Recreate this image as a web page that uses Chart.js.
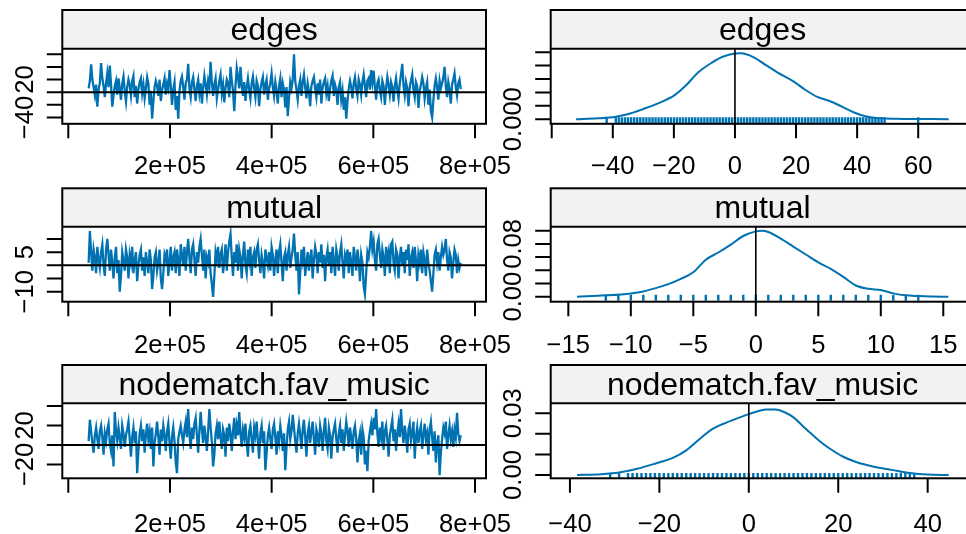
<!DOCTYPE html>
<html><head><meta charset="utf-8">
<script src="https://cdn.jsdelivr.net/npm/chart.js@4.4.0/dist/chart.umd.min.js"></script>
<style>
html,body{margin:0;padding:0;background:#fff;overflow:hidden;width:966px;height:534px;position:relative;}
canvas{position:absolute;left:0;top:0;}
</style></head><body>
<canvas id="p0" width="1000" height="534"></canvas>
<canvas id="p1" width="1000" height="534"></canvas>
<canvas id="p2" width="1000" height="534"></canvas>
<canvas id="p3" width="1000" height="534"></canvas>
<canvas id="p4" width="1000" height="534"></canvas>
<canvas id="p5" width="1000" height="534"></canvas>
<script>
// ---------------- DATA ----------------
const statNames = ['edges', 'mutual', 'nodematch.fav_music'];

// MCMC iteration axis (regular sampling interval of the chain)
const ITER_START = 40000;
const ITER_STEP = 2448;

// Trace values (deviation of sampled statistic from observed)
const edgesTrace = [
  6, 18, 44, 20, 8, -5, 12, -23, 4, 15, 46, 22, 10, -8, 14,
  30, 8, 42, 12, -23, -6, 10, 18, -4, 22, 6, -12, 14, 25, 2,
  -15, 8, 20, 12, -5, 18, 26, -8, 10, -18, 4, 16, 22, -2, 12,
  -10, 6, 24, 14, -20, 2, -42, -15, 8, 18, 10, -6, 20, -14, 4,
  12, 22, -4, 14, 6, 35, 10, -20, 4, 16, -28, -6, -42, 2, 18,
  25, 8, -12, 14, 20, 45, 6, -8, 16, 24, 4, -14, 10, 20, -2,
  14, -18, 6, 26, 12, -4, 18, 8, 48, 16, -6, 12, 22, -10, 4,
  18, 28, -2, 12, -16, 6, 20, 14, -8, 40, 18, 2, -30, 10, 38,
  24, 6, 40, 12, -6, 16, -14, 8, 22, 4, -10, 14, 25, 6, -8,
  18, 10, -22, 4, 16, 24, -4, 12, 20, -12, 6, 14, 30, 8, -6,
  16, 2, -18, 10, 22, -8, 14, 4, -24, 8, -38, -10, 16, 6, 20,
  60, 18, 4, -12, 10, 20, -6, 16, 28, 8, -10, 14, 2, -22, 10,
  18, 24, 6, -8, 14, -4, 20, -18, 8, 16, 22, -2, 10, -14, 6,
  18, 26, -6, 12, 4, -20, 8, 16, -12, 2, -28, -8, -42, -14, 6,
  18, 8, -10, 14, 24, 6, -6, 20, 12, -4, 16, 28, 10, -8, 18,
  22, 4, 35, 16, 34, 8, -12, 14, 20, 2, -8, 18, 10, -20, 6,
  24, 12, -4, 16, 8, -15, 10, 22, 4, -10, 14, 28, 45, 10, -5,
  16, 6, -22, 8, 18, 28, 4, -8, 16, 10, -25, 2, 12, 24, 14,
  -10, 6, 16, -20, 4, -30, -40, -12, 10, 22, 8, -12, 18, 6, 14,
  24, 40, 10, -8, 16, 4, -18, 12, 20, 30, 8, -5, 14, 20, 5
];
const mutualTrace = [
  1, 13, 5, -2, 6, 3, -3, 7, 2, -1, 5, 8, 0, -4, 6,
  10, 4, -2, 6, 1, -5, 3, 7, -3, 2, -10, -4, 5, 2, -2,
  6, 3, -5, 4, 1, 7, -3, 2, 5, -6, 0, 4, 6, -2, 3,
  -4, 5, 1, -3, 6, 2, -9, -4, 3, 5, -2, 1, 6, -5, -9,
  -3, 4, 2, 6, -4, 1, 7, -2, 3, 5, -3, 6, 2, -4, 8,
  4, 0, 7, -2, 5, 10, 3, -3, 6, 8, 2, -4, 5, 1, 7,
  10, 4, -2, 6, -5, 3, 1, 6, -3, -7, -12, -4, 5, 2, 7,
  -1, 4, 6, -3, 2, 8, -2, 5, 9, 12, 3, -4, 5, 1, 8,
  -2, 6, 3, -5, 4, 9, 0, -3, 6, 2, 7, -4, 3, 5, -1,
  6, 8, 2, -3, 4, 1, -5, 6, 3, 0, 5, -2, 7, 4, -4,
  2, 6, -3, 5, 8, 1, -6, 3, 5, -2, 4, 7, -1, 3, 6,
  12, 4, -2, 5, -11, -3, 6, 2, 7, -4, 1, 5, -2, 3, 6,
  -5, 2, 7, 4, -3, 5, 1, 8, -1, 4, -6, 3, 6, 0, 5,
  -3, 7, 2, -4, 6, 3, -2, 5, 8, 1, -5, 4, 2, 6, -3,
  5, 1, -4, 7, 3, -2, 6, 2, -6, 4, 1, -8, -11, -3, 5,
  3, 7, 13, 6, 9, 2, -2, 8, 10, 4, -1, 6, 3, -4, 7,
  2, 5, -3, 8, 9, 1, -2, 6, 4, -5, 3, 7, 0, 5, -3,
  6, 2, 8, -4, 3, 5, -1, 7, 2, -6, 4, 1, 6, -3, 5,
  2, -4, 6, 1, -2, -6, -10, -3, 4, 6, 1, 5, -2, 3, 7,
  4, 6, 10, 2, -2, 5, 3, -5, 1, 6, 4, -3, 2, -1, 1
];
const nodematchTrace = [
  4, 26, 14, 2, -8, 10, 18, 6, -4, 14, 20, 8, -10, 12, 4,
  16, 22, 2, -6, 10, -22, 34, 14, 4, 18, 8, -4, 20, 12, -2,
  10, 16, 24, 6, -12, 8, 18, 2, 14, -29, -6, 12, 20, 4, 16,
  -8, 10, 22, 6, 14, -4, 18, -22, 2, 12, 24, 8, -10, 16, 4,
  20, 10, -6, 14, 22, 2, -14, 8, 18, 4, -18, -29, 6, 14, 20,
  10, 2, 16, 24, 8, 37, 12, -4, 18, 6, 22, 28, 10, -8, 14,
  34, 16, 2, 20, 8, -6, 14, 37, 18, 4, -22, -10, 12, 20, 6,
  24, 8, -4, 16, 10, -12, 18, 4, 22, 12, -6, 14, 28, 6, 20,
  10, 34, 12, -2, 16, 8, 22, 2, -12, 14, 20, 6, -8, 18, 10,
  24, 4, -14, 12, 20, 2, 14, -26, -8, 10, 18, 6, -4, 16, 22,
  8, -10, 14, 4, 20, 10, -6, 12, -26, -2, 16, 24, 6, 14, 31,
  18, 4, -8, 12, 22, 10, -4, 16, 26, 8, -12, 12, 20, 2, 14,
  24, 6, -10, 16, 10, -2, 20, 12, -6, 14, 28, 4, -4, 18, 10,
  -14, 8, 16, 22, 6, -8, 12, 20, 2, 16, -6, 10, 24, 14, -2,
  18, 8, -4, 14, 20, 6, -18, 4, 12, -10, 16, 8, -20, -6, -27,
  4, 14, 22, 10, 28, 16, 37, 12, -2, 18, 8, 24, -5, 14, 20,
  6, -12, 10, 18, 26, 4, 16, -6, 12, 22, 8, 37, 14, 2, 20,
  10, -8, 16, 22, 4, 12, 24, -14, 8, 18, 2, 14, 20, -4, 10,
  22, 6, 12, -10, 16, 24, 8, -6, 14, -18, 2, 10, -31, -8, 6,
  18, 12, 24, -4, 10, 20, 6, 14, -2, 16, 8, 33, 12, 4, 10
];

// Kernel density curves (x, density)
const edgesDensX = [-52,-45,-39,-34,-30,-25,-20,-16,-12,-8,-4,0,2,6,10,14,19,23,27,31,35,39,43,48,55,70];
const edgesDensY = [0,0.0003,0.0009,0.0022,0.0038,0.0060,0.0088,0.0127,0.0175,0.0208,0.0233,0.0245,0.0246,0.0232,0.0203,0.0174,0.0142,0.0110,0.0083,0.0068,0.0047,0.0025,0.0010,0.0003,0.0001,0];
const mutualDensX = [-14.3,-12,-10,-9,-8,-7,-6,-5,-4,-3,-2,-1,0,0.5,1,2,3,4,5,6,7,8,9,10,11,12,13,14,15.4];
const mutualDensY = [0,0.002,0.005,0.008,0.013,0.019,0.027,0.037,0.056,0.067,0.079,0.092,0.099,0.100,0.098,0.088,0.076,0.064,0.052,0.042,0.030,0.017,0.012,0.010,0.005,0.002,0.001,0.0003,0];
const nodematchDensX = [-38.4,-33,-29,-25,-21,-17,-14,-11,-8,-5,-2,0,2,4,6,8,10,12,14,16,18,21,24,28,32,36,40,44.7];
const nodematchDensY = [0,0.0004,0.0012,0.0030,0.0055,0.0083,0.0120,0.0175,0.0225,0.0255,0.0280,0.0296,0.0310,0.0319,0.0318,0.0305,0.0280,0.0240,0.0200,0.0162,0.0130,0.0090,0.0063,0.0040,0.0025,0.0010,0.0002,0];

// Observed distinct values (rug marks)
const edgesRug = [-42,-39,-38,-37,-36,-35,-34,-33,-32,-31,-30,-29,-28,-27,-26,-25,-24,-23,-22,-21,-20,-19,-18,-17,-16,-15,-14,-13,-12,-11,-10,-9,-8,-7,-6,-5,-4,-3,-2,-1,0,1,2,3,4,5,6,7,8,9,10,11,12,13,14,15,16,17,18,19,20,21,22,23,24,25,26,27,28,29,30,31,32,33,34,35,36,37,38,39,40,41,42,43,44,45,46,47,48,49,60];
const mutualRug = [-12,-11,-10,-9,-8,-7,-6,-5,-4,-3,-2,-1,0,1,2,3,4,5,6,7,8,9,10,11,12,13];
const nodematchRug = [-31,-29,-27,-26,-25,-24,-23,-22,-21,-20,-19,-18,-17,-16,-15,-14,-13,-12,-11,-10,-9,-8,-7,-6,-5,-4,-3,-2,-1,0,1,2,3,4,5,6,7,8,9,10,11,12,13,14,15,16,17,18,19,20,21,22,23,24,25,26,27,28,29,30,31,32,33,34,35,36,37];

// Tick values and labels
const traceXTicks = [0, 200000, 400000, 600000, 800000];
const traceXLabels = ['', '2e+05', '4e+05', '6e+05', '8e+05'];
const edgesTraceYTicks = [-40, -20, 0, 20, 40, 60];
const edgesTraceYLabels = ['\u221240', '', '', '20', '', ''];
const mutualTraceYTicks = [-10, -5, 0, 5, 10];
const mutualTraceYLabels = ['\u221210', '', '', '5', ''];
const nodematchTraceYTicks = [-20, 0, 20, 40];
const nodematchTraceYLabels = ['\u221220', '', '20', ''];
const edgesDensXTicks = [-60, -40, -20, 0, 20, 40, 60];
const edgesDensXLabels = ['', '\u221240', '\u221220', '0', '20', '40', '60'];
const mutualDensXTicks = [-15, -10, -5, 0, 5, 10, 15];
const mutualDensXLabels = ['\u221215', '\u221210', '\u22125', '0', '5', '10', '15'];
const nodematchDensXTicks = [-40, -20, 0, 20, 40];
const nodematchDensXLabels = ['\u221240', '\u221220', '0', '20', '40'];
const edgesDensYTicks = [0, 0.005, 0.010, 0.015, 0.020, 0.025];
const edgesDensYLabels = ['0.000', '', '', '', '', ''];
const mutualDensYTicks = [0, 0.02, 0.04, 0.06, 0.08, 0.10];
const mutualDensYLabels = ['0.00', '', '', '', '0.08', ''];
const nodematchDensYTicks = [0, 0.01, 0.02, 0.03];
const nodematchDensYLabels = ['0.00', '', '', '0.03'];

// ---------------- STYLE / LAYOUT ----------------
const BLUE = '#0072B2';
const FONT_FAMILY = '"Liberation Sans", Arial, Helvetica, sans-serif';
const AXIS_PX = 25.6, STRIP_PX = 32;
const CANVAS_W = 1000, CANVAS_H = 534;
const COL_L = {l: 62.3, r: 486};
const COL_R = {l: 550.7, r: 974.4};
const ROWS = [
  {strip: 10, t: 48.7, b: 123.8, lab: 174},
  {strip: 188.3, t: 226.7, b: 301.7, lab: 352.5},
  {strip: 365, t: 403.3, b: 478.3, lab: 532}
];

function txt(ctx, s, x, y, px, align, rotated) {
  if (!s) return;
  ctx.save();
  ctx.translate(x, y);
  if (rotated) ctx.rotate(-Math.PI / 2);
  ctx.font = px + 'px ' + FONT_FAMILY;
  ctx.textAlign = align;
  ctx.textBaseline = 'alphabetic';
  ctx.fillStyle = '#000';
  ctx.fillText(s, 0, 0);
  ctx.restore();
}

const panelPlugin = {
  id: 'latticePanel',
  afterDatasetsDraw(chart, args, o) {
    const ctx = chart.ctx, a = chart.chartArea, x = chart.scales.x, y = chart.scales.y;
    ctx.save();
    // rug
    if (o.rug) {
      const y0 = y.getPixelForValue(0);
      ctx.strokeStyle = BLUE; ctx.lineWidth = 2.4;
      ctx.beginPath();
      o.rug.forEach(v => { const px = x.getPixelForValue(v); ctx.moveTo(px, y0 - 2); ctx.lineTo(px, y0 + 4); });
      ctx.stroke();
    }
    // reference line at zero
    ctx.strokeStyle = '#000';
    ctx.beginPath();
    if (o.kind === 'trace') {
      ctx.lineWidth = 2;
      const py = y.getPixelForValue(0); ctx.moveTo(a.left, py); ctx.lineTo(a.right, py);
    } else {
      ctx.lineWidth = 1.6;
      const px = x.getPixelForValue(0); ctx.moveTo(px, a.top); ctx.lineTo(px, a.bottom);
    }
    ctx.stroke();
    // strip
    ctx.fillStyle = '#F2F2F2';
    ctx.fillRect(a.left, o.stripTop, a.right - a.left, a.top - o.stripTop);
    ctx.strokeStyle = '#000'; ctx.lineWidth = 2;
    ctx.strokeRect(a.left, o.stripTop, a.right - a.left, a.bottom - o.stripTop);
    ctx.beginPath(); ctx.moveTo(a.left, a.top); ctx.lineTo(a.right, a.top); ctx.stroke();
    txt(ctx, o.title, (a.left + a.right) / 2, o.stripTop + 29.5, STRIP_PX, 'center', false);
    // y ticks
    ctx.beginPath();
    o.yTicks.forEach(v => { const py = y.getPixelForValue(v); ctx.moveTo(a.left - 15.5, py); ctx.lineTo(a.left, py); });
    // x ticks
    o.xTicks.forEach(v => { const px = x.getPixelForValue(v); ctx.moveTo(px, a.bottom); ctx.lineTo(px, a.bottom + 14.5); });
    ctx.stroke();
    o.yTicks.forEach((v, i) => txt(ctx, o.yLabels[i], a.left - 29.3, y.getPixelForValue(v), AXIS_PX, 'center', true));
    o.xTicks.forEach((v, i) => txt(ctx, o.xLabels[i], x.getPixelForValue(v), o.labelY, AXIS_PX, 'center', false));
    ctx.restore();
  }
};

function makePanel(id, p) {
  const pts = p.xs.map((xv, i) => ({x: xv, y: p.ys[i]}));
  new Chart(document.getElementById(id), {
    type: 'line',
    data: {datasets: [{
      data: pts, borderColor: BLUE, borderWidth: p.kind === 'trace' ? 2.3 : 2,
      pointRadius: 0, fill: false, tension: 0,
      cubicInterpolationMode: p.kind === 'density' ? 'monotone' : 'default'
    }]},
    options: {
      responsive: false, animation: false, devicePixelRatio: 1, events: [],
      layout: {padding: {left: p.col.l, right: CANVAS_W - p.col.r, top: p.row.t, bottom: CANVAS_H - p.row.b}},
      scales: {
        x: {type: 'linear', min: p.xMin, max: p.xMax, display: false},
        y: {type: 'linear', min: p.yMin, max: p.yMax, display: false}
      },
      plugins: {
        legend: {display: false}, tooltip: {enabled: false},
        latticePanel: {
          kind: p.kind, title: p.title, stripTop: p.row.strip, labelY: p.row.lab, rug: p.rug,
          xTicks: p.xTicks, xLabels: p.xLabels, yTicks: p.yTicks, yLabels: p.yLabels
        }
      }
    },
    plugins: [panelPlugin]
  });
}

const iters = n => Array.from({length: n}, (_, i) => ITER_START + i * ITER_STEP);
const TRACE_XMIN = -11800, TRACE_XMAX = 821600;

makePanel('p0', {kind: 'trace', title: statNames[0], col: COL_L, row: ROWS[0],
  xs: iters(edgesTrace.length), ys: edgesTrace, xMin: TRACE_XMIN, xMax: TRACE_XMAX, yMin: -50.1, yMax: 68.9,
  xTicks: traceXTicks, xLabels: traceXLabels, yTicks: edgesTraceYTicks, yLabels: edgesTraceYLabels});
makePanel('p1', {kind: 'density', title: statNames[0], col: COL_R, row: ROWS[0], rug: edgesRug,
  xs: edgesDensX, ys: edgesDensY, xMin: -60.33, xMax: 78.4, yMin: -0.00173, yMax: 0.02632,
  xTicks: edgesDensXTicks, xLabels: edgesDensXLabels, yTicks: edgesDensYTicks, yLabels: edgesDensYLabels});
makePanel('p2', {kind: 'trace', title: statNames[1], col: COL_L, row: ROWS[1],
  xs: iters(mutualTrace.length), ys: mutualTrace, xMin: TRACE_XMIN, xMax: TRACE_XMAX, yMin: -13.8, yMax: 14.65,
  xTicks: traceXTicks, xLabels: traceXLabels, yTicks: mutualTraceYTicks, yLabels: mutualTraceYLabels});
makePanel('p3', {kind: 'density', title: statNames[1], col: COL_R, row: ROWS[1], rug: mutualRug,
  xs: mutualDensX, ys: mutualDensY, xMin: -16.41, xMax: 17.49, yMin: -0.0076, yMax: 0.1061,
  xTicks: mutualDensXTicks, xLabels: mutualDensXLabels, yTicks: mutualDensYTicks, yLabels: mutualDensYLabels});
makePanel('p4', {kind: 'trace', title: statNames[2], col: COL_L, row: ROWS[2],
  xs: iters(nodematchTrace.length), ys: nodematchTrace, xMin: TRACE_XMIN, xMax: TRACE_XMAX, yMin: -34.3, yMax: 42.9,
  xTicks: traceXTicks, xLabels: traceXLabels, yTicks: nodematchTraceYTicks, yLabels: nodematchTraceYLabels});
makePanel('p5', {kind: 'density', title: statNames[2], col: COL_R, row: ROWS[2], rug: nodematchRug,
  xs: nodematchDensX, ys: nodematchDensY, xMin: -44.3, xMax: 50.45, yMin: -0.0016, yMax: 0.03486,
  xTicks: nodematchDensXTicks, xLabels: nodematchDensXLabels, yTicks: nodematchDensYTicks, yLabels: nodematchDensYLabels});
</script>
</body></html>
